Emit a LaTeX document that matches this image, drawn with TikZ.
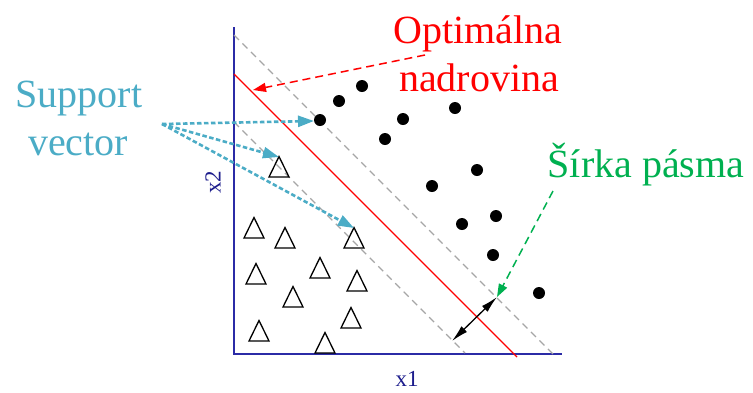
\documentclass[tikz,border=0pt]{standalone}
\usepackage{fontspec}
\setmainfont{Liberation Serif}
\usetikzlibrary{arrows.meta,calc}
\definecolor{svblue}{HTML}{4BACC6}
\definecolor{hpred}{HTML}{FF0000}
\definecolor{bwgreen}{HTML}{00B050}
\definecolor{axblue}{HTML}{2B2BA6}
\definecolor{lblnavy}{HTML}{1C1C8C}
\definecolor{dashgray}{HTML}{A6A6A6}
\begin{document}
\begin{tikzpicture}[x=1bp,y=-1bp,
  axisline/.style={draw=axblue,line width=1.3bp},
  marginline/.style={draw=dashgray,line width=1.3bp,dash pattern=on 7bp off 5bp},
  hyperline/.style={draw=hpred,line width=1.3bp},
  bigtext/.style={font=\fontsize{40bp}{48bp}\selectfont,inner sep=0pt,anchor=base},
  axlabel/.style={font=\fontsize{23bp}{25bp}\selectfont,text=lblnavy,inner sep=0pt},
  svarrow/.style={draw=svblue,line width=2.6bp,dash pattern=on 4.5bp off 2.5bp,
     -{Triangle[length=16bp,width=11bp,fill=svblue,sep=0pt]}},
  redarrow/.style={draw=hpred,line width=1.5bp,dash pattern=on 8bp off 5bp,
     -{Triangle[length=13bp,width=9bp,fill=hpred]}},
  greenarrow/.style={draw=bwgreen,line width=1.5bp,dash pattern=on 8bp off 5bp,
     -{Triangle[length=13bp,width=9bp,fill=bwgreen]}},
  widtharrow/.style={draw=black,line width=1.3bp,
     {Latex[length=17bp,width=8bp]}-{Latex[length=17bp,width=8bp]}},
  dot/.style={fill=black},
  tri/.pic={\draw[black,line width=1.3bp] (0,-10.5) -- (10,10) -- (-10,10) -- cycle;}
]
\useasboundingbox (0,0) rectangle (753,392);

% axes
\coordinate (origin) at (234,354);
\coordinate (ytop) at (234,27);
\coordinate (xend) at (562,354);
\draw[axisline] (ytop) -- (234,355);
\draw[axisline] (origin) -- (xend);
\node[axlabel,rotate=90] (x2) at (213,182) {x2};
\node[axlabel] (x1) at (407,379) {x1};

% margin lines and hyperplane
\coordinate (ua) at (234,35);  \coordinate (ub) at (553,354);
\coordinate (la) at (234,122); \coordinate (lb) at (465,353);
\coordinate (ha) at (234,74);  \coordinate (hb) at (517,357);
\draw[marginline] (ua) -- (ub);
\draw[marginline] (la) -- (lb);
\draw[hyperline] (ha) -- (hb);

% dots
\foreach \px/\py in {362/86,339/101,320/120,455/108,403/119,385/139,477/170,432/186,462/224,496/216,493/255,539/293}
  \fill[dot] (\px,\py) circle (6bp);

% triangles
\foreach \px/\py in {279/167,254/228,285/238,354/238,256/274,320/268,357/281,293/297,351/318,259/331,325/343}
  \pic at (\px,\py) {tri};

% labels
\node[bigtext,text=svblue] (sv1) at (79,107) {Support};
\node[bigtext,text=svblue] (sv2) at (78,155) {vector};
\node[bigtext,text=hpred] (on1) at (478,43) {Optimálna};
\node[bigtext,text=hpred] (on2) at (479,91) {nadrovina};
\node[bigtext,text=bwgreen] (sp) at (646,177) {Šírka pásma};

% connectors
\coordinate (svsrc) at (162,124);
\coordinate (sva) at (314,121);
\coordinate (svb) at (279,157);
\coordinate (svc) at (354,228);
\draw[svarrow] (svsrc) -- (sva);
\draw[svarrow] (svsrc) -- (svb);
\draw[svarrow] (svsrc) -- (svc);

\coordinate (onsrc) at (425,55);
\coordinate (ontip) at (253,90);
\draw[redarrow] (onsrc) -- (ontip);

\coordinate (spsrc) at (553,191);
\coordinate (wtop) at (497,297);
\coordinate (wbot) at (452,341);
\draw[greenarrow] (spsrc) -- (wtop);
\draw[widtharrow] (wbot) -- (wtop);
\end{tikzpicture}
\end{document}
